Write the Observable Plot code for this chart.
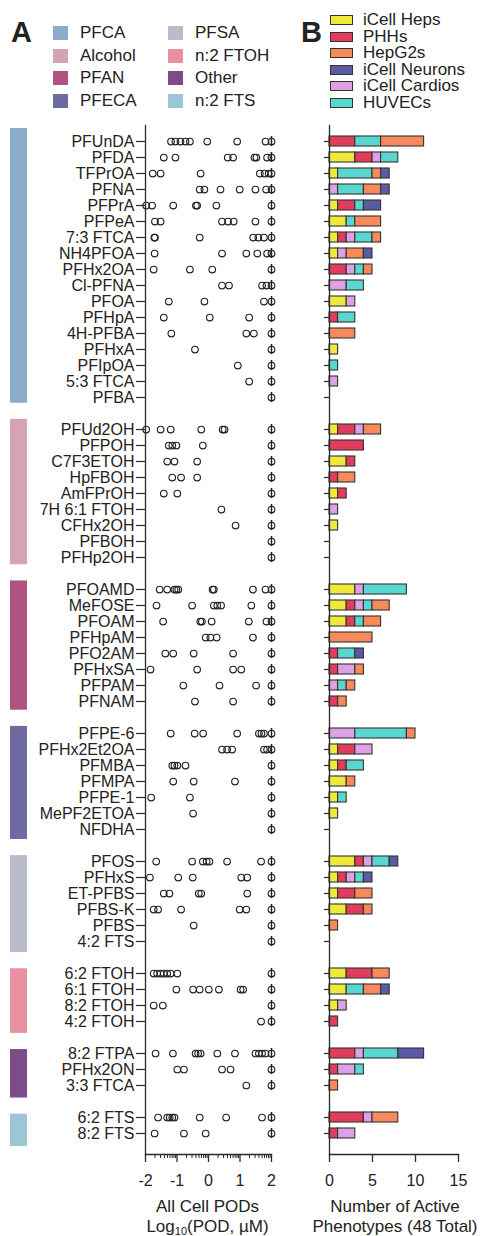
<!DOCTYPE html>
<html><head><meta charset="utf-8">
<script src="https://cdn.jsdelivr.net/npm/d3@7"></script>
<script src="https://cdn.jsdelivr.net/npm/@observablehq/plot@0.6"></script>
<style>
body{margin:0;background:#fff;}
#wrap{position:relative;width:484px;height:1236px;overflow:hidden;background:#fff;font-family:"Liberation Sans",Arial,Helvetica,sans-serif;color:#222;}
.abs{position:absolute;}
.big{font-weight:bold;font-size:29px;line-height:30px;}
.lgA{position:absolute;display:flex;align-items:center;font-size:17px;white-space:nowrap;height:20px;}
.lgA span.sw{display:inline-block;width:15px;height:14px;margin-right:12px;}
.lgB{position:absolute;display:flex;align-items:center;font-size:17px;white-space:nowrap;height:17px;}
.lgB span.sw{display:inline-block;width:21px;height:8px;border:1px solid #333;margin-right:10px;}
.ttl{position:absolute;width:200px;text-align:center;font-size:17px;line-height:20px;white-space:nowrap;}
.ttl sub{font-size:11px;vertical-align:-3px;line-height:0;}
</style></head>
<body><div id="wrap"></div>
<script>
// ---------------- data ----------------
const groups = ["PFCA","Alcohol","PFAN","PFECA","PFSA","n:2 FTOH","Other","n:2 FTS"];
const groupColors = ["#8caaca","#d4a4b6","#b05380","#6d6ba2","#b9bcc9","#e8909f","#7b4b8a","#9cc5d5"];

const compoundsPFCA = ["PFUnDA","PFDA","TFPrOA","PFNA","PFPrA","PFPeA","7:3 FTCA","NH4PFOA","PFHx2OA","Cl-PFNA","PFOA","PFHpA","4H-PFBA","PFHxA","PFIpOA","5:3 FTCA","PFBA"];
const compoundsAlcohol = ["PFUd2OH","PFPOH","C7F3ETOH","HpFBOH","AmFPrOH","7H 6:1 FTOH","CFHx2OH","PFBOH","PFHp2OH"];
const compoundsPFAN = ["PFOAMD","MeFOSE","PFOAM","PFHpAM","PFO2AM","PFHxSA","PFPAM","PFNAM"];
const compoundsPFECA = ["PFPE-6","PFHx2Et2OA","PFMBA","PFMPA","PFPE-1","MePF2ETOA","NFDHA"];
const compoundsPFSA = ["PFOS","PFHxS","ET-PFBS","PFBS-K","PFBS","4:2 FTS"];
const compoundsFTOH = ["6:2 FTOH","6:1 FTOH","8:2 FTOH","4:2 FTOH"];
const compoundsOther = ["8:2 FTPA","PFHx2ON","3:3 FTCA"];
const compoundsFTS = ["6:2 FTS","8:2 FTS"];

// log10 POD values (µM) below the 100 µM cap, one list per compound
const podsPFCA = [
  [-1.19,-1.05,-0.89,-0.73,-0.59,-0.04,0.91,1.81],
  [-1.42,-1.05,0.61,0.78,1.46,1.52,1.86],
  [-1.77,-1.52,-0.25,1.63,1.78,1.91],
  [-0.28,-0.13,0.38,0.99,1.49,1.83],
  [-1.98,-1.79,-1.12,-0.40,-0.36,0.25],
  [-1.70,-1.52,0.43,0.62,0.80,1.49],
  [-1.72,-1.70,-0.28,1.42,1.58,1.76],
  [-1.71,0.43,1.20,1.55,1.86],
  [-1.74,-0.59,0.12],
  [0.43,0.65,1.70,1.84],
  [-1.26,-0.13,1.76],
  [-1.42,0.04,1.29],
  [-1.18,1.20,1.44],
  [-0.43],
  [0.93],
  [1.29],
  []
];
const podsAlcohol = [
  [-1.98,-1.52,-1.20,-0.23,0.45,0.51],
  [-1.26,-1.15,-1.02,-0.18],
  [-1.31,-1.08,-0.36],
  [-1.15,-0.87,-0.36],
  [-1.42,-0.99],
  [0.41],
  [0.86],
  [],
  []
];
const podsPFAN = [
  [-1.55,-1.31,-1.08,-1.02,-0.96,0.13,0.17,1.41,1.81],
  [-1.65,-0.52,0.17,0.28,0.40,1.36],
  [-1.44,-0.26,-0.21,0.10,1.28,1.84],
  [-0.09,0.06,0.26,1.41],
  [-1.37,-1.12,-0.47,0.78],
  [-1.84,-0.36,0.78,1.04],
  [-0.80,0.35,1.51],
  [-0.43,0.78]
];
const podsPFECA = [
  [-1.20,-0.44,-0.17,0.91,1.60,1.68,1.76],
  [0.43,0.59,0.75,1.76,1.86],
  [-1.15,-1.08,-0.99,-0.73],
  [-1.12,-0.47,0.84],
  [-1.82,-0.59],
  [-0.49],
  []
];
const podsPFSA = [
  [-1.66,-0.52,-0.18,-0.06,0.03,0.59,1.67],
  [-1.86,-0.96,-0.50,1.04,1.23],
  [-1.42,-1.24,-0.31,-0.23,1.23],
  [-1.74,-1.60,-0.87,0.99,1.20],
  [-0.47],
  []
];
const podsFTOH = [
  [-1.74,-1.63,-1.52,-1.42,-1.31,-1.20,-0.99],
  [-1.02,-0.49,-0.28,0.01,0.33,1.02,1.10],
  [-1.74,-1.45],
  [1.67]
];
const podsOther = [
  [-1.68,-1.13,-0.41,-0.33,-0.25,0.28,0.84,1.49,1.60,1.70,1.81],
  [-0.99,-0.78,0.43,0.70],
  [1.20]
];
const podsFTS = [
  [-1.60,-1.31,-1.23,-1.15,-1.08,-0.28,0.56,1.70],
  [-1.71,-0.78,-0.09]
];
const capLog = 2; // inactive / capped value (100 µM), also the median of every row

// cell types: legend order and stacking order
const cellLegend = ["iCell Heps","PHHs","HepG2s","iCell Neurons","iCell Cardios","HUVECs"];
const cellLegendColors = ["#efe93b","#e23c5c","#f8895b","#5b5aa7","#dba1e2","#5ad6d0"];
const stackOrder = ["iCell Heps","PHHs","iCell Cardios","HUVECs","HepG2s","iCell Neurons"];

// active phenotype counts per compound, in stackOrder
const countsPFCA = [
  [0,3,0,3,5,0],[3,2,1,2,0,0],[1,0,0,4,1,1],[0,0,1,3,2,1],[1,2,0,1,0,2],[2,0,0,1,3,0],
  [1,1,1,2,1,0],[1,0,1,0,2,1],[0,2,1,1,1,0],[0,0,2,2,0,0],[2,0,1,0,0,0],[0,1,0,2,0,0],
  [0,0,0,0,3,0],[1,0,0,0,0,0],[0,0,0,1,0,0],[0,0,1,0,0,0],[0,0,0,0,0,0]
];
const countsAlcohol = [
  [1,2,1,0,2,0],[0,4,0,0,0,0],[2,1,0,0,0,0],[0,1,0,0,2,0],[1,1,0,0,0,0],
  [0,0,1,0,0,0],[1,0,0,0,0,0],[0,0,0,0,0,0],[0,0,0,0,0,0]
];
const countsPFAN = [
  [3,0,1,5,0,0],[2,1,1,1,2,0],[2,1,0,1,2,0],[0,0,0,0,5,0],[0,1,0,2,0,1],
  [0,1,2,0,1,0],[0,0,1,1,1,0],[0,1,0,0,1,0]
];
const countsPFECA = [
  [0,0,3,6,1,0],[1,2,2,0,0,0],[1,1,0,2,0,0],[2,0,0,0,1,0],[1,0,0,1,0,0],
  [1,0,0,0,0,0],[0,0,0,0,0,0]
];
const countsPFSA = [
  [3,1,1,2,0,1],[1,1,1,1,0,1],[1,2,0,0,2,0],[2,2,0,0,1,0],[0,0,0,0,1,0],[0,0,0,0,0,0]
];
const countsFTOH = [[2,3,0,0,2,0],[2,0,0,2,2,1],[1,0,1,0,0,0],[0,1,0,0,0,0]];
const countsOther = [[0,3,1,4,0,3],[0,1,2,1,0,0],[0,0,0,0,1,0]];
const countsFTS = [[0,4,1,0,3,0],[0,1,2,0,0,0]];

const xMajorTicks = [-2,-1,0,1,2];
const barTicks = [0,5,10,15];

// ---------------- build tables ----------------
const compoundsByGroup = [compoundsPFCA,compoundsAlcohol,compoundsPFAN,compoundsPFECA,compoundsPFSA,compoundsFTOH,compoundsOther,compoundsFTS];
const podsByGroup = [podsPFCA,podsAlcohol,podsPFAN,podsPFECA,podsPFSA,podsFTOH,podsOther,podsFTS];
const countsByGroup = [countsPFCA,countsAlcohol,countsPFAN,countsPFECA,countsPFSA,countsFTOH,countsOther,countsFTS];

const yDomain = [];
const groupSpans = [];
const dots = [];
const bars = [];
const compounds = [];
groups.forEach((g, gi) => {
  const start = yDomain.length;
  compoundsByGroup[gi].forEach((c, ci) => {
    yDomain.push(c); compounds.push(c);
    podsByGroup[gi][ci].forEach(v => dots.push({compound: c, v}));
    dots.push({compound: c, v: capLog});
    countsByGroup[gi][ci].forEach((n, k) => { if (n > 0) bars.push({compound: c, cell: stackOrder[k], n}); });
  });
  groupSpans.push({group: g, start, end: yDomain.length});
  if (gi < groups.length - 1) yDomain.push("gap" + gi);
});

const minorTicks = [];
for (const n of d3.range(-2, 2)) for (const k of d3.range(2, 10)) minorTicks.push(n + Math.log10(k));

// ---------------- layout ----------------
const FONT = '"Liberation Sans", Arial, Helvetica, sans-serif';
const H = 1195, TOP = 125, BOTTOM = 41;
const bandRange = [128, 1146];
const yBand = {domain: yDomain, range: bandRange, padding: 0, axis: null};
const style = {background: "transparent", overflow: "visible", fontFamily: FONT, fontSize: "16px", color: "#222"};
const AX = "#2a2a2a";

const wrap = document.getElementById("wrap");
function place(el, left, top) {
  const d = document.createElement("div");
  d.className = "abs"; d.style.left = left + "px"; d.style.top = top + "px";
  d.appendChild(el); wrap.appendChild(d); return d;
}

// category colour strips
const catPlot = Plot.plot({
  width: 17, height: H, marginLeft: 0, marginRight: 0, marginTop: TOP, marginBottom: BOTTOM, style,
  x: {domain: [0, 1], axis: null},
  y: {domain: [0, yDomain.length], range: bandRange, axis: null},
  color: {domain: groups, range: groupColors},
  marks: [
    Plot.rect(groupSpans, {x1: () => 0, x2: () => 1, y1: "start", y2: "end", fill: "group"})
  ]
});
place(catPlot, 10, 0);

// dot plot of PODs
const dotPlot = Plot.plot({
  width: 290, height: H, marginLeft: 145, marginRight: 19, marginTop: TOP, marginBottom: BOTTOM, style,
  x: {domain: [-2, 2], axis: null},
  y: yBand,
  marks: [
    Plot.frame({anchor: "left", stroke: AX, strokeWidth: 1.3}),
    Plot.frame({anchor: "bottom", stroke: AX, strokeWidth: 1.3}),
    Plot.axisY({ticks: compounds, tickSize: 9, tickPadding: 2, label: null, stroke: AX, strokeWidth: 1.2}),
    Plot.axisX({ticks: minorTicks, tickSize: 4, tickFormat: () => "", label: null, stroke: AX, strokeWidth: 1}),
    Plot.axisX({ticks: xMajorTicks, tickSize: 8, tickPadding: 12, tickFormat: d => String(d), label: null, stroke: AX, strokeWidth: 1.3}),
    Plot.dot(dots, {x: "v", y: "compound", r: 3.3, stroke: "#222", strokeWidth: 1.15}),
    Plot.tickX(compounds, {x: () => capLog, y: d => d, insetTop: 3, insetBottom: 3, stroke: "#222", strokeWidth: 1.5})
  ]
});
place(dotPlot, 0, 0);

// stacked bars of active phenotypes
const barColors = stackOrder.map(c => cellLegendColors[cellLegend.indexOf(c)]);
const barPlot = Plot.plot({
  width: 194, height: H, marginLeft: 39, marginRight: 26, marginTop: TOP, marginBottom: BOTTOM, style,
  x: {domain: [0, 15], axis: null},
  y: yBand,
  color: {domain: stackOrder, range: barColors},
  marks: [
    Plot.barX(bars, {x: "n", y: "compound", fill: "cell", stroke: "#333", strokeWidth: 1.1, insetTop: 3, insetBottom: 3}),
    Plot.frame({anchor: "left", stroke: AX, strokeWidth: 1.3}),
    Plot.frame({anchor: "bottom", stroke: AX, strokeWidth: 1.3}),
    Plot.axisY({ticks: compounds, tickSize: 5, tickFormat: () => "", label: null, stroke: AX, strokeWidth: 1.2}),
    Plot.axisX({ticks: barTicks, tickSize: 8, tickPadding: 12, tickFormat: d => String(d), label: null, stroke: AX, strokeWidth: 1.3})
  ]
});
place(barPlot, 290, 0);

// ---------------- legends & titles (HTML) ----------------
function addDiv(cls, html, left, top) {
  const d = document.createElement("div");
  d.className = cls; d.innerHTML = html;
  d.style.left = left + "px"; d.style.top = top + "px";
  wrap.appendChild(d); return d;
}
addDiv("abs big", "A", 11, 17);
addDiv("abs big", "B", 301, 17);

const lgARows = [33, 55.7, 78.3, 101];
groups.forEach((g, i) => {
  const col = Math.floor(i / 4), row = i % 4;
  addDiv("lgA", `<span class="sw" style="background:${groupColors[i]}"></span>${g}`, col === 0 ? 53 : 168, lgARows[row] - 10);
});

const lgBRows = [20, 36.6, 53.2, 69.8, 86.4, 103];
cellLegend.forEach((c, i) => {
  addDiv("lgB", `<span class="sw" style="background:${cellLegendColors[i]}"></span>${c}`, 330, lgBRows[i] - 8.5);
});

addDiv("ttl", "All Cell PODs<br>Log<sub>10</sub>(POD, µM)", 107.5, 1197);
addDiv("ttl", "Number of Active<br>Phenotypes (48 Total)", 295, 1197);
</script>
</body></html>
